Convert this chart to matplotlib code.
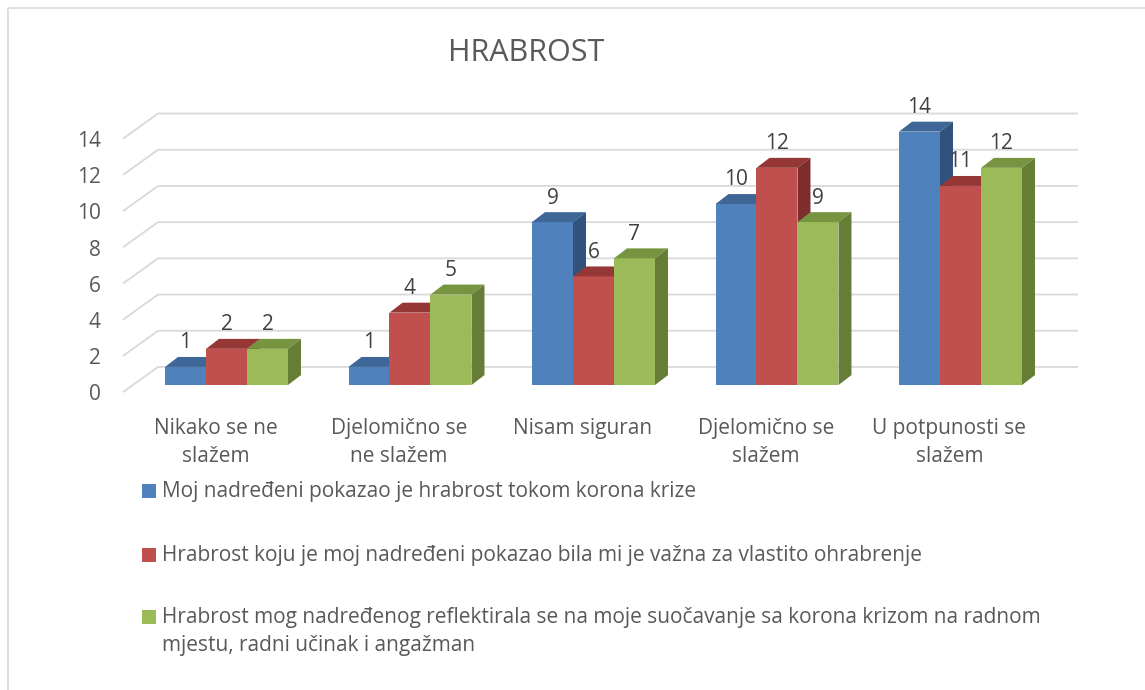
import matplotlib.pyplot as plt
from matplotlib.patches import Polygon, Rectangle
from matplotlib.lines import Line2D

plt.rcParams['font.family'] = ['Open Sans', 'DejaVu Sans']

# data
categories = ['Nikako se ne\nslažem', 'Djelomično se\nne slažem', 'Nisam siguran',
              'Djelomično se\nslažem', 'U potpunosti se\nslažem']
series_names = ['Moj nadređeni pokazao je hrabrost tokom korona krize',
                'Hrabrost koju je moj nadređeni pokazao bila mi je važna za vlastito ohrabrenje',
                'Hrabrost mog nadređenog reflektirala se na moje suočavanje sa korona krizom na radnom\n'
                'mjestu, radni učinak i angažman']
pokazao = [1, 1, 9, 10, 14]
vazna = [2, 4, 6, 12, 11]
reflektirala = [2, 5, 7, 9, 12]
yticks = [0, 2, 4, 6, 8, 10, 12, 14]

front_col = ['#4F81BD', '#C0504D', '#9BBB59']
top_col = ['#3E6696', '#953735', '#779440']
side_col = ['#31527C', '#7D2E2C', '#667D36']
txt = '#595959'

fig = plt.figure(figsize=(11.45, 6.9), dpi=100)
ax = fig.add_axes([0.0696, 0.4210, 0.9135, 0.4407])
ax.set_xlim(-0.8, 4.9)
ax.set_ylim(-0.8, 16)
ax.axis('off')

# fake 3d: depth offsets of bars and of the back wall
w = 0.2234
dx, dy = 0.0708, 0.55
wall_front_x, wall_back_x, wall_right = -0.564, -0.373, 4.64
floor_drop, wall_rise = 0.39, 1.0

for v in yticks:
    ax.plot([wall_front_x, wall_back_x, wall_right], [v - floor_drop, v + wall_rise, v + wall_rise],
            color='#D9D9D9', lw=1.3, zorder=1, solid_capstyle='butt')
    ax.text(-0.684, v - 0.55, str(v), ha='right', va='center', fontsize=15, color=txt)

for s, vals in enumerate([pokazao, vazna, reflektirala]):
    lefts = [i - 1.5 * w + s * w for i in range(len(vals))]
    ax.bar(lefts, vals, width=w, align='edge', color=front_col[s], linewidth=0, zorder=3 + 3 * s)
    for l, v in zip(lefts, vals):
        ax.add_patch(Polygon([(l, v), (l + w, v), (l + w + dx, v + dy), (l + dx, v + dy)],
                             closed=True, color=top_col[s], lw=0, zorder=4 + 3 * s))
        ax.add_patch(Polygon([(l + w, 0), (l + w, v), (l + w + dx, v + dy), (l + w + dx, dy)],
                             closed=True, color=side_col[s], lw=0, zorder=5 + 3 * s))
        ax.text(l + w / 2, v + 1.33, str(v), ha='center', va='center', fontsize=15,
                color='#404040', zorder=20)

# category labels hang from the same top line
for i, c in enumerate(categories):
    ax.text(i - 0.06, -1.82, c, ha='center', va='top', fontsize=15, color=txt,
            linespacing=1.42)

# title
fig.text(526 / 1145, 1 - 53 / 690, 'HRABROST', ha='center', va='center', fontsize=22, color=txt)

# legend, drawn by hand
rows = [491, 555, 631.5]
for s, name in enumerate(series_names):
    sq_y = rows[s] if s < 2 else 617
    fig.add_artist(Rectangle((142 / 1145, 1 - (sq_y + 7) / 690), 14 / 1145, 14 / 690,
                             transform=fig.transFigure, color=front_col[s], lw=0))
    fig.text(162 / 1145, 1 - rows[s] / 690, name, ha='left', va='center', fontsize=15,
             color=txt, linespacing=1.42)

# chart area border
fig.add_artist(Line2D([8 / 1145, 8 / 1145, 1], [0, 1 - 8 / 690, 1 - 8 / 690],
                      transform=fig.transFigure, color='#D9D9D9', lw=1.2))

fig.savefig('out.png', dpi=100, facecolor='white')
